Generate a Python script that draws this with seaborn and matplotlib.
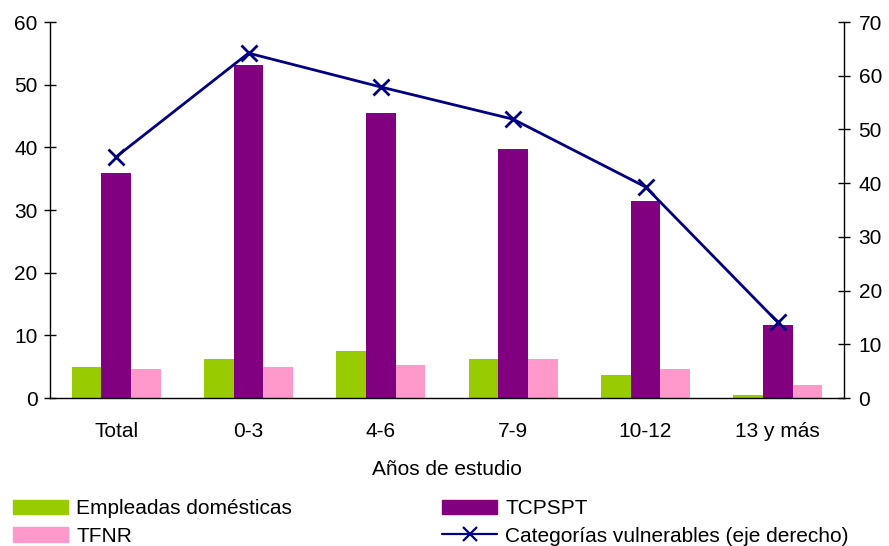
import numpy as np
import pandas as pd
import matplotlib
matplotlib.use("Agg")
import matplotlib.pyplot as plt
import seaborn as sns
from matplotlib.ticker import FixedLocator
from matplotlib.patches import Patch
from matplotlib.lines import Line2D

## Data
categorias = ["Total", "0-3", "4-6", "7-9", "10-12", "13 y más"]
empleadas = [5.0, 6.3, 7.5, 6.3, 3.7, 0.5]
tcpspt = [35.9, 53.1, 45.5, 39.7, 31.4, 11.7]
tfnr = [4.7, 5.0, 5.3, 6.3, 4.7, 2.1]
vulnerables = [44.9, 64.2, 57.9, 51.9, 39.3, 14.1]

series = ["Empleadas domésticas", "TCPSPT", "TFNR"]
colores = {"Empleadas domésticas": "#99CC00", "TCPSPT": "#800080", "TFNR": "#FF99CC"}

df = pd.DataFrame({
    "cat": categorias * 3,
    "serie": [series[0]] * 6 + [series[1]] * 6 + [series[2]] * 6,
    "valor": empleadas + tcpspt + tfnr,
})

sns.set_style("white")
plt.rcParams["font.family"] = ["Liberation Sans", "DejaVu Sans"]
plt.rcParams["font.size"] = 15
plt.rcParams["text.color"] = "black"
plt.rcParams["axes.labelcolor"] = "black"
plt.rcParams["xtick.color"] = "black"
plt.rcParams["ytick.color"] = "black"

fig = plt.figure(figsize=(8.89, 5.46), dpi=100)
ax = fig.add_axes([50 / 889, 1 - 398 / 546, 794 / 889, 376 / 546])

sns.barplot(data=df, x="cat", y="valor", hue="serie", hue_order=series,
            order=categorias, palette=colores, width=0.675, saturation=1,
            edgecolor="none", ax=ax, legend=False)

ax.set_xlim(-0.5, 5.5)
ax.set_ylim(0, 60)
ax.set_yticks(range(0, 61, 10))
ax.set_xlabel("Años de estudio", fontsize=15, labelpad=14)
ax.set_ylabel("")
ax.tick_params(axis="x", which="major", length=0, pad=17, labelsize=15)
ax.xaxis.set_minor_locator(FixedLocator(np.arange(-0.5, 6, 1)))
ax.tick_params(axis="x", which="minor", length=5, width=1, direction="out")
ax.tick_params(axis="y", length=8, width=1, direction="inout", labelsize=15, pad=5)
for s in ["left", "bottom"]:
    ax.spines[s].set_color("black")
    ax.spines[s].set_linewidth(1)
ax.spines["top"].set_visible(False)
ax.spines["right"].set_visible(False)

ax2 = ax.twinx()
sns.lineplot(x=np.arange(6), y=vulnerables, ax=ax2, color="#000080", linewidth=2,
             marker="x", markersize=12, markeredgewidth=2, markeredgecolor="#000080")
ax2.set_ylim(0, 70)
ax2.set_yticks(range(0, 71, 10))
ax2.set_xlim(-0.5, 5.5)
ax2.tick_params(axis="y", length=8, width=1, direction="inout", labelsize=15, pad=6.5)
ax2.spines["right"].set_visible(True)
ax2.spines["right"].set_color("black")
ax2.spines["right"].set_linewidth(1)
for s in ["top", "left", "bottom"]:
    ax2.spines[s].set_visible(False)

handles = [
    Patch(color=colores["Empleadas domésticas"]),
    Patch(color=colores["TFNR"]),
    Patch(color=colores["TCPSPT"]),
    Line2D([], [], color="#000080", marker="x", markersize=10, linewidth=1.6, markeredgewidth=1.6),
]
labels = ["Empleadas domésticas", "TFNR", "TCPSPT", "Categorías vulnerables (eje derecho)"]
fig.legend(handles, labels, ncol=2, loc="lower left", bbox_to_anchor=(0.0, -0.022),
           frameon=False, fontsize=15, handlelength=2.65, handleheight=0.7,
           handletextpad=0.4, columnspacing=7.2, labelspacing=0.4, borderaxespad=0.2)

fig.savefig("out.png", dpi=100)
